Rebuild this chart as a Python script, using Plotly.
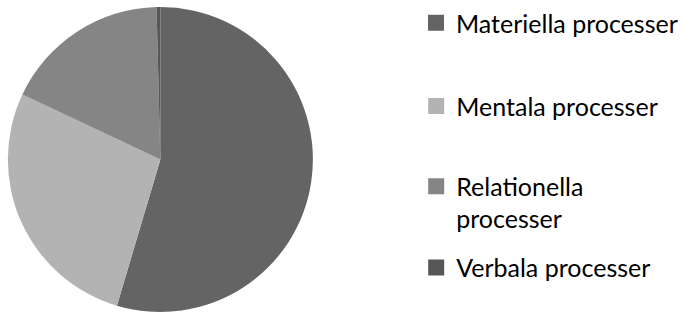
import plotly.graph_objects as go

labels = ["Materiella processer", "Mentala processer", "Relationella processer", "Verbala processer"]
legend_text = ["Materiella processer", "Mentala processer", "Relationella<br>processer", "Verbala processer"]
values = [54.6, 27.4, 17.6, 0.4]
colors = ["#646464", "#b3b3b3", "#858585", "#575757"]

fig = go.Figure()
fig.add_trace(go.Pie(
    labels=labels, values=values, sort=False, direction="clockwise", rotation=0,
    marker=dict(colors=colors, line=dict(width=0)),
    textinfo="none", hoverinfo="label+percent", showlegend=False,
    domain=dict(x=[8/683, 318/683], y=[1-313/314, 1-3/314]),
))

legend_names = ["legend", "legend2", "legend3", "legend4"]
legend_top_px = [-3, 81, 162, 244]
for name, txt, col, lg in zip(labels, legend_text, colors, legend_names):
    fig.add_trace(go.Scatter(
        x=[None], y=[None], mode="markers", name=txt,
        marker=dict(symbol="square", size=16, color=col),
        showlegend=True, legend=lg,
    ))

layout_legends = {}
for lg, top in zip(legend_names, legend_top_px):
    layout_legends[lg] = dict(
        x=423/683, y=1-top/314, xanchor="left", yanchor="top",
        font=dict(family="Lato, sans-serif", size=25, color="#000000"),
        bgcolor="rgba(0,0,0,0)", itemwidth=30, valign="top",
        tracegroupgap=0,
    )

fig.update_layout(
    width=683, height=314, margin=dict(l=0, r=0, t=0, b=0),
    paper_bgcolor="white", plot_bgcolor="white",
    xaxis=dict(visible=False), yaxis=dict(visible=False),
    **layout_legends,
)

fig.write_html("out.html", config={"displayModeBar": False},
               post_script="document.body.style.margin='0';")
